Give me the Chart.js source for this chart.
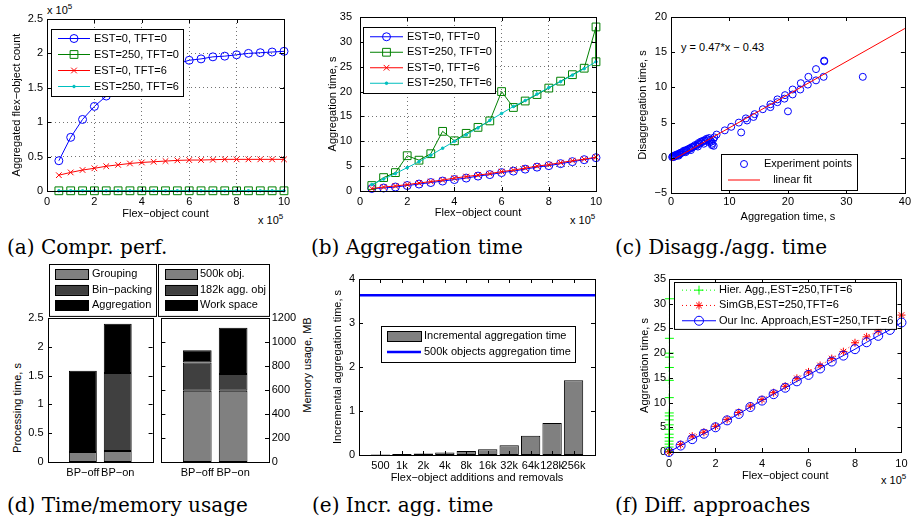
<!DOCTYPE html>
<html>
<head>
<meta charset="utf-8">
<title>Flex-object aggregation experiments</title>
<script src="https://cdn.jsdelivr.net/npm/chart.js@4.4.0/dist/chart.umd.min.js"></script>
<style>
  body { margin: 0; background: #fff; }
  #page { position: relative; width: 913px; height: 525px; overflow: hidden; font-family: "Liberation Sans", Arial, sans-serif; }
  canvas { position: absolute; }
  .cap { position: absolute; font-family: "DejaVu Serif", serif; font-size: 20px; line-height: 24px; white-space: nowrap; }
  .note { position: absolute; font-size: 11px; line-height: 13px; white-space: nowrap; }
  .sup { position: relative; top: -5px; font-size: 8px; }
  .rot { transform: translate(-50%, -50%) rotate(-90deg); }
</style>
</head>
<body>
<div id="page">
  <div class="cap" style="left:7px;top:235px">(a) Compr. perf.</div>
  <div class="cap" style="left:311px;top:235px">(b) Aggregation time</div>
  <div class="cap" style="left:615px;top:235px">(c) Disagg./agg. time</div>
  <div class="cap" style="left:7px;top:493px">(d) Time/memory usage</div>
  <div class="cap" style="left:312px;top:493px">(e) Incr. agg. time</div>
  <div class="cap" style="left:615px;top:493px">(f) Diff. approaches</div>

  <div class="note" style="left:47px;top:4px">x 10<span class="sup">5</span></div>
  <div class="note" style="left:258px;top:214px">x 10<span class="sup">5</span></div>
  <div class="note" style="left:570px;top:214px">x 10<span class="sup">5</span></div>
  <div class="note" style="left:881px;top:474px">x 10<span class="sup">5</span></div>
  <div class="note" style="left:681px;top:41px">y = 0.47*x − 0.43</div>
  <div class="note rot" style="left:17px;top:408px">Processing time, s</div>
  <div class="note rot" style="left:307px;top:365px">Memory usage, MB</div>
</div>
<script>
// ---- DATA ----

// (a) compression: flex-object count (x 10^5) -> aggregated flex-object count (x 10^5)
const flexCount = [0.5, 1, 1.5, 2, 2.5, 3, 3.5, 4, 4.5, 5, 5.5, 6, 6.5, 7, 7.5, 8, 8.5, 9, 9.5, 10];
const comprEst0Tft0 = [0.44, 0.78, 1.04, 1.23, 1.38, 1.5, 1.6, 1.68, 1.75, 1.8, 1.85, 1.9, 1.92, 1.95, 1.96, 1.98, 2.0, 2.01, 2.02, 2.03];
const comprEst250Tft0 = [0.003, 0.003, 0.003, 0.003, 0.003, 0.003, 0.003, 0.003, 0.003, 0.003, 0.003, 0.003, 0.003, 0.003, 0.003, 0.003, 0.003, 0.003, 0.003, 0.003];
const comprEst0Tft6 = [0.23, 0.27, 0.305, 0.33, 0.36, 0.38, 0.4, 0.415, 0.425, 0.435, 0.445, 0.45, 0.45, 0.455, 0.46, 0.46, 0.46, 0.46, 0.46, 0.46];
const comprEst250Tft6 = [0.003, 0.003, 0.003, 0.003, 0.003, 0.003, 0.003, 0.003, 0.003, 0.003, 0.003, 0.003, 0.003, 0.003, 0.003, 0.003, 0.003, 0.003, 0.003, 0.003];

// (b) aggregation time, s
const aggEst0Tft0 = [0.5, 0.6, 0.8, 1.1, 1.4, 1.7, 2.0, 2.3, 2.6, 3.0, 3.3, 3.7, 4.0, 4.4, 4.8, 5.1, 5.5, 5.9, 6.3, 6.7];
const aggEst0Tft6 = [0.5, 0.8, 1.0, 1.3, 1.6, 1.9, 2.2, 2.6, 2.9, 3.2, 3.5, 3.9, 4.2, 4.6, 5.0, 5.3, 5.7, 6.1, 6.4, 6.8];
const aggEst250Tft6 = [1.3, 2.4, 3.5, 4.7, 5.9, 7.2, 8.6, 10.0, 11.3, 12.7, 14.2, 15.6, 17.0, 18.2, 19.5, 20.8, 22.0, 23.3, 24.6, 26.0];
const flexCountGreen = [0.5, 1, 1.5, 2, 2.5, 3, 3.5, 4, 4.5, 5, 5.5, 6, 6.5, 7, 7.5, 8, 8.5, 9, 9.5, 10, 10];
const aggEst250Tft0 = [1.1, 2.7, 3.7, 7.1, 6.2, 7.5, 12.0, 10.1, 11.6, 12.8, 14.1, 20.0, 16.8, 18.1, 19.4, 20.7, 22.1, 23.4, 24.7, 33.0, 26.0];

// (c) aggregation vs disaggregation time, s
const aggTimes = [0.2, 0.3, 0.4, 0.5, 0.6, 0.7, 0.8, 0.9, 1.0, 1.1,
  1.2, 1.3, 1.4, 1.5, 1.6, 1.8, 1.9, 2.1, 2.2, 2.4,
  2.5, 2.6, 2.7, 2.9, 3.1, 3.3, 3.4, 3.5, 3.7, 3.9,
  4.1, 4.3, 4.5, 4.6, 4.7, 4.9, 5.1, 5.3, 5.5, 5.6,
  5.7, 5.9, 6.1, 6.3, 6.5, 6.6, 6.7, 6.9, 7.0, 7.0,
  7.2, 7.3, 7.4, 7.8, 9.2, 10.3, 11.6, 12.0, 12.8, 13.0,
  14.1, 14.3, 15.7, 17.0, 17.0, 18.2, 18.2, 19.4, 19.5, 20.0,
  20.8, 20.8, 22.1, 22.2, 23.5, 24.8, 26.1, 26.2, 32.8, 23.4, 24.8, 26.2];
const disaggTimes = [0.1, 0.2, 0.1, 0.2, 0.3, 0.2, 0.4, 0.3, 0.4, 0.5,
  0.4, 0.3, 0.6, 0.5, 0.7, 0.7, 0.8, 0.8, 1.0, 1.0,
  0.8, 1.1, 1.0, 1.2, 1.3, 1.3, 1.1, 1.5, 1.5, 1.6,
  1.8, 1.7, 1.9, 1.6, 2.1, 2.0, 2.3, 2.2, 2.4, 2.0,
  2.5, 2.4, 2.7, 2.6, 2.8, 2.2, 2.5, 2.3, 2.0, 1.8,
  2.6, 1.7, 2.9, 3.3, 3.9, 4.4, 5.0, 3.6, 5.6, 5.3,
  5.8, 6.2, 6.9, 7.6, 7.2, 8.3, 7.9, 8.4, 8.9, 6.6,
  9.7, 9.0, 9.7, 10.6, 11.5, 12.6, 11.5, 13.7, 11.5, 10.4, 11.0, 13.8];
const fitX = [0, 40];
const fitY = [-0.43, 18.37];

// (d) processing time (s) and memory usage (MB)
const bpCategories = ["BP\u2212off", "BP\u2212on"];
const groupingTime = [0.175, 0.19];
const binPackingTime = [0, 1.355];
const aggregationTime = [1.41, 0.855];
const memObjects = [594, 594];
const memAggObjects = [235, 140];
const memWorkSpace = [103, 385];

// (e) incremental aggregation time, s
const incrLabels = ["500", "1k", "2k", "4k", "8k", "16k", "32k", "64k", "128k", "256k"];
const incrTime = [0.01, 0.02, 0.035, 0.055, 0.09, 0.13, 0.22, 0.44, 0.73, 1.7];
const fullAggTime = 3.63;

// (f) aggregation time of different approaches, s
const hierX = [0.001, 0.002, 0.003, 0.004, 0.005, 0.006, 0.007, 0.008, 0.009, 0.010, 0.011, 0.012, 0.013, 0.014, 0.015, 0.016, 0.017, 0.018, 0.019];
const hierY = [0.1, 0.5, 1.0, 1.6, 2.2, 2.9, 3.6, 4.6, 5.5, 6.5, 7.3, 7.9, 11.0, 14.5, 17.1, 19.2, 20.0, 23.0, 31.0];
const flexCountF = [0, 0.5, 1, 1.5, 2, 2.5, 3, 3.5, 4, 4.5, 5, 5.5, 6, 6.5, 7, 7.5, 8, 8.5, 9, 9.5, 10];
const simgbY = [0, 1.5, 3.2, 4.0, 5.2, 6.6, 8.0, 9.3, 10.6, 12.0, 13.3, 14.9, 16.2, 17.5, 18.9, 20.3, 22.1, 23.3, 24.5, 26.0, 27.7];
const ourIncY = [0, 1.3, 2.6, 3.7, 5.0, 6.4, 7.7, 9.1, 10.4, 11.7, 13.0, 14.3, 15.6, 16.9, 18.3, 19.5, 20.8, 22.2, 23.5, 24.7, 26.2];

// ---- SETUP ----
Chart.defaults.font.family = '"Liberation Sans", Arial, sans-serif';
Chart.defaults.font.size = 11;
Chart.defaults.color = "#000";
Chart.defaults.animation = false;
Chart.defaults.responsive = false;
Chart.defaults.plugins.legend.display = false;
Chart.defaults.plugins.tooltip.enabled = false;

function pts(xs, ys) {
  return xs.map((x, i) => ({ x: x, y: ys[i] }));
}

function makeCanvas(left, top, w, h) {
  const c = document.createElement("canvas");
  c.width = w;
  c.height = h;
  c.style.left = left + "px";
  c.style.top = top + "px";
  document.getElementById("page").appendChild(c);
  return c;
}

const fmt = (v) => String(v).replace("-", "\u2212");

// matlab-ish axis: fixed size so the plot area lands where it should
function axis(o) {
  const vertical = o.position === "left" || o.position === "right";
  return {
    type: "linear",
    position: o.position,
    min: o.min,
    max: o.max,
    stacked: !!o.stacked,
    offset: false,
    afterFit: (s) => {
      if (vertical) s.width = o.size;
      else s.height = o.size;
    },
    ticks: {
      stepSize: o.step,
      padding: o.tickPad,
      callback: o.labels || fmt,
      autoSkip: false,
      maxRotation: 0,
      minRotation: 0,
    },
    grid: o.grid
      ? { drawTicks: false, offset: false, color: "rgba(0,0,0,0.55)", lineWidth: 1 }
      : { display: false, drawTicks: false, offset: false },
    border: { display: false, dash: o.grid ? [1, 3] : [] },
    title: {
      display: !!o.title,
      text: o.title,
      padding: { top: o.titlePad || 0, bottom: o.titlePad || 0 },
      font: { size: 11 },
    },
  };
}

function series(label, xs, ys, color, style, radius, extra) {
  return Object.assign(
    {
      label: label,
      data: pts(xs, ys),
      borderColor: color,
      borderWidth: 1,
      pointStyle: style,
      pointRadius: radius,
      pointBorderColor: color,
      pointBackgroundColor: "rgba(0,0,0,0)",
      pointBorderWidth: 1,
      tension: 0,
      fill: false,
      clip: false,
    },
    extra || {}
  );
}

function barSet(label, xs, ys, color, pct) {
  return {
    type: "bar",
    label: label,
    data: pts(xs, ys),
    backgroundColor: color,
    borderColor: "#000",
    borderWidth: 1,
    borderSkipped: false,
    barPercentage: pct,
    categoryPercentage: 1,
  };
}

// LEGEND (boxed, one entry per row)
function drawLegend(chart, lg) {
  const ctx = chart.ctx;
  const h = lg.pad * 2 + lg.rowH * lg.items.length;
  ctx.save();
  ctx.fillStyle = "#fff";
  ctx.fillRect(lg.x, lg.y, lg.w, h);
  ctx.strokeStyle = "#000";
  ctx.lineWidth = 1;
  ctx.strokeRect(lg.x + 0.5, lg.y + 0.5, lg.w, h);
  ctx.font = '11px "Liberation Sans", Arial, sans-serif';
  ctx.textBaseline = "middle";
  lg.items.forEach((di, i) => {
    const ds = chart.data.datasets[di];
    const cy = lg.y + lg.pad + lg.rowH * (i + 0.5);
    const x1 = lg.x + lg.s1;
    const x2 = lg.x + lg.s2;
    if (ds.type === "bar") {
      const sw = lg.sw || 10;
      ctx.fillStyle = ds.backgroundColor;
      ctx.fillRect(x1, cy - sw / 2, x2 - x1, sw);
      ctx.strokeStyle = "#000";
      ctx.lineWidth = 1;
      ctx.strokeRect(Math.round(x1) + 0.5, Math.round(cy - sw / 2) + 0.5, x2 - x1, sw);
    } else {
      if (ds.showLine !== false) {
        ctx.strokeStyle = ds.borderColor;
        ctx.lineWidth = ds.borderWidth;
        ctx.setLineDash(ds.borderDash || []);
        ctx.beginPath();
        ctx.moveTo(x1, cy);
        ctx.lineTo(x2, cy);
        ctx.stroke();
        ctx.setLineDash([]);
      }
      if (ds.pointRadius > 0) {
        ctx.strokeStyle = ds.pointBorderColor;
        ctx.fillStyle = ds.pointBackgroundColor;
        ctx.lineWidth = 1;
        Chart.helpers.drawPoint(ctx, { pointStyle: ds.pointStyle, radius: ds.pointRadius, rotation: 0, borderWidth: 1 }, (x1 + x2) / 2, cy);
      }
    }
    ctx.fillStyle = "#000";
    ctx.fillText(ds.label, lg.x + lg.tx, cy);
  });
  ctx.restore();
}

// box round the plot + inward tick marks, then the legend on top
const matlabBox = {
  id: "matlabBox",
  afterDatasetsDraw(chart, args, opts) {
    const ctx = chart.ctx;
    const a = chart.chartArea;
    const len = 4;
    const x = chart.scales.x;
    const y = chart.scales.y;
    ctx.save();
    ctx.strokeStyle = "#000";
    ctx.lineWidth = 1;
    ctx.beginPath();
    if (!opts || opts.xTicks !== false) {
      x.ticks.forEach((t, i) => {
        const px = Math.round(x.getPixelForTick(i)) + 0.5;
        ctx.moveTo(px, a.bottom);
        ctx.lineTo(px, a.bottom - len);
        ctx.moveTo(px, a.top);
        ctx.lineTo(px, a.top + len);
      });
    }
    y.ticks.forEach((t, i) => {
      const py = Math.round(y.getPixelForTick(i)) + 0.5;
      ctx.moveTo(a.left, py);
      ctx.lineTo(a.left + len, py);
      ctx.moveTo(a.right, py);
      ctx.lineTo(a.right - len, py);
    });
    ctx.stroke();
    ctx.strokeRect(Math.round(a.left) + 0.5, Math.round(a.top) + 0.5, Math.round(a.right - a.left), Math.round(a.bottom - a.top));
    ctx.restore();
  },
  afterDraw(chart, args, opts) {
    if (opts && opts.legend) drawLegend(chart, opts.legend);
  },
};
Chart.register(matlabBox);

// (a) COMPRESSION
new Chart(makeCanvas(0, 0, 300, 228), {
  type: "line",
  data: {
    datasets: [
      series("EST=0, TFT=0", flexCount, comprEst0Tft0, "#0000ff", "circle", 4, { order: 4 }),
      series("EST=250, TFT=0", flexCount, comprEst250Tft0, "#008000", "rect", 5.5, { order: 3 }),
      series("EST=0, TFT=6", flexCount, comprEst0Tft6, "#ff0000", "crossRot", 4, { order: 2 }),
      series("EST=250, TFT=6", flexCount, comprEst250Tft6, "#00bfbf", "circle", 1.3, { order: 1, pointBackgroundColor: "#00bfbf" }),
    ],
  },
  options: {
    layout: { padding: { top: 19, right: 16, left: 0, bottom: 0 } },
    scales: {
      x: axis({ position: "bottom", min: 0, max: 10, step: 2, size: 37, tickPad: 4, title: "Flex\u2212object count", titlePad: 7.8, grid: true }),
      y: axis({ position: "left", min: 0, max: 2.5, step: 0.5, size: 47, tickPad: 4, title: "Aggregated flex\u2212object count", titlePad: 10.4, grid: true }),
    },
    plugins: { matlabBox: { legend: { x: 51, y: 29, w: 132, pad: 1.5, rowH: 16, s1: 7, s2: 39, tx: 43, items: [0, 1, 2, 3] } } },
  },
});

// (b) AGGREGATION TIME
new Chart(makeCanvas(300, 0, 310, 228), {
  type: "line",
  data: {
    datasets: [
      series("EST=0, TFT=0", flexCount, aggEst0Tft0, "#0000ff", "circle", 4, { order: 4 }),
      series("EST=250, TFT=0", flexCountGreen, aggEst250Tft0, "#008000", "rect", 5.5, { order: 3 }),
      series("EST=0, TFT=6", flexCount, aggEst0Tft6, "#ff0000", "crossRot", 4, { order: 2 }),
      series("EST=250, TFT=6", flexCount, aggEst250Tft6, "#00bfbf", "circle", 1.3, { order: 1, pointBackgroundColor: "#00bfbf" }),
    ],
  },
  options: {
    layout: { padding: { top: 17, right: 14, left: 0, bottom: 0 } },
    scales: {
      x: axis({ position: "bottom", min: 0, max: 10, step: 2, size: 37, tickPad: 4, title: "Flex\u2212object count", titlePad: 8.4, grid: true }),
      y: axis({ position: "left", min: 0, max: 35, step: 5, size: 60, tickPad: 8, title: "Aggregation time, s", titlePad: 26.4, grid: true }),
    },
    plugins: { matlabBox: { legend: { x: 63, y: 27, w: 132, pad: 2, rowH: 15.5, s1: 7, s2: 40, tx: 44, items: [0, 1, 2, 3] } } },
  },
});

// (c) DISAGGREGATION VS AGGREGATION
new Chart(makeCanvas(610, 0, 303, 228), {
  type: "line",
  data: {
    datasets: [
      series("Experiment points", aggTimes, disaggTimes, "#0000ff", "circle", 3.5, { showLine: false, order: 2 }),
      series("   linear fit", fitX, fitY, "#ff0000", "circle", 0, { order: 1 }),
    ],
  },
  options: {
    layout: { padding: { top: 17, right: 6, left: 0, bottom: 0 } },
    scales: {
      x: axis({ position: "bottom", min: 0, max: 40, step: 10, size: 35, tickPad: 2, title: "Aggregation time, s", titlePad: 4.7 }),
      y: axis({ position: "left", min: -5, max: 20, step: 5, size: 61, tickPad: 4, title: "Disaggregation time, s", titlePad: 26.4 }),
    },
    plugins: { matlabBox: { legend: { x: 111, y: 154, w: 136, pad: 2, rowH: 16, s1: 7, s2: 39, tx: 43, items: [0, 1] } } },
  },
});

// (d) PROCESSING TIME / MEMORY
const bpX = bpCategories.map((c, i) => i + 1);
const bpLabel = (v) => bpCategories[v - 1] || "";

new Chart(makeCanvas(0, 260, 157, 225), {
  type: "bar",
  data: {
    datasets: [
      barSet("Grouping", bpX, groupingTime, "#808080", 0.8),
      barSet("Bin\u2212packing", bpX, binPackingTime, "#404040", 0.8),
      barSet("Aggregation", bpX, aggregationTime, "#000000", 0.8),
    ],
  },
  options: {
    layout: { padding: { top: 58, right: 1, left: 0, bottom: 0 } },
    scales: {
      x: axis({ position: "bottom", min: 0, max: 3, step: 1, size: 23, tickPad: 4.4, labels: bpLabel, stacked: true }),
      y: axis({ position: "left", min: 0, max: 2.5, step: 0.5, size: 48, tickPad: 4.5, stacked: true }),
    },
    plugins: { matlabBox: { xTicks: false, legend: { x: 49, y: 4, w: 107, pad: 2.7, rowH: 15.5, s1: 6, s2: 39, tx: 43, sw: 10, items: [0, 1, 2] } } },
  },
});

new Chart(makeCanvas(157, 260, 163, 225), {
  type: "bar",
  data: {
    datasets: [
      barSet("500k obj.", bpX, memObjects, "#808080", 0.8),
      barSet("182k agg. obj", bpX, memAggObjects, "#404040", 0.8),
      barSet("Work space", bpX, memWorkSpace, "#000000", 0.8),
    ],
  },
  options: {
    layout: { padding: { top: 58, right: 0, left: 1, bottom: 0 } },
    scales: {
      x: axis({ position: "bottom", min: 0, max: 3, step: 1, size: 23, tickPad: 4.4, labels: bpLabel, stacked: true }),
      y: axis({ position: "right", min: 0, max: 1200, step: 200, size: 51, tickPad: 2.7, stacked: true }),
    },
    plugins: { matlabBox: { xTicks: false, legend: { x: 1, y: 4, w: 111, pad: 2.7, rowH: 15.5, s1: 7, s2: 39, tx: 42, sw: 10, items: [0, 1, 2] } } },
  },
});

// (e) INCREMENTAL AGGREGATION
const incrX = incrLabels.map((c, i) => i + 1);
const incrMax = incrLabels.length + 1;

new Chart(makeCanvas(320, 260, 290, 225), {
  type: "bar",
  data: {
    datasets: [
      Object.assign(barSet("Incremental aggregation time", incrX, incrTime, "#808080", 0.9), { order: 2 }),
      {
        type: "line",
        label: "500k objects aggregation time",
        data: pts([0, incrMax], [fullAggTime, fullAggTime]),
        borderColor: "#0000ff",
        borderWidth: 2.5,
        pointRadius: 0,
        order: 1,
      },
    ],
  },
  options: {
    layout: { padding: { top: 19, right: 15, left: 0, bottom: 0 } },
    scales: {
      x: axis({ position: "bottom", min: 0, max: incrMax, step: 1, size: 30, tickPad: 4.4, labels: (v) => incrLabels[v - 1] || "", title: "Flex\u2212object additions and removals", titlePad: 0.4 }),
      y: axis({ position: "left", min: 0, max: 4, step: 1, size: 39, tickPad: 4, title: "Incremental aggregation time, s", titlePad: 11.4 }),
    },
    plugins: { matlabBox: { legend: { x: 61, y: 66, w: 194, pad: 2, rowH: 16, s1: 6, s2: 40, tx: 43, sw: 10, items: [0, 1] } } },
  },
});

// (f) DIFFERENT APPROACHES
new Chart(makeCanvas(610, 260, 303, 225), {
  type: "line",
  data: {
    datasets: [
      series("Hier. Agg.,EST=250,TFT=6", hierX, hierY, "#00ff00", "cross", 4.5, { borderDash: [1, 3], order: 3 }),
      series("SimGB,EST=250,TFT=6", flexCountF, simgbY, "#ff0000", "star", 4, { borderDash: [1, 3], order: 2 }),
      series("Our Inc. Approach,EST=250,TFT=6", flexCountF, ourIncY, "#0000ff", "circle", 4.5, { order: 1 }),
    ],
  },
  options: {
    layout: { padding: { top: 19, right: 6, left: 0, bottom: 0 } },
    scales: {
      x: axis({ position: "bottom", min: 0, max: 10, step: 2, size: 33, tickPad: 5.4, title: "Flex\u2212object count", titlePad: 2.4 }),
      y: axis({ position: "left", min: 0, max: 35, step: 5, size: 59, tickPad: 3, title: "Aggregation time, s", titlePad: 28.4 }),
    },
    plugins: { matlabBox: { legend: { x: 64, y: 22, w: 222, pad: 0.5, rowH: 15.3, s1: 8, s2: 42, tx: 45, items: [0, 1, 2] } } },
  },
});
</script>
</body>
</html>
